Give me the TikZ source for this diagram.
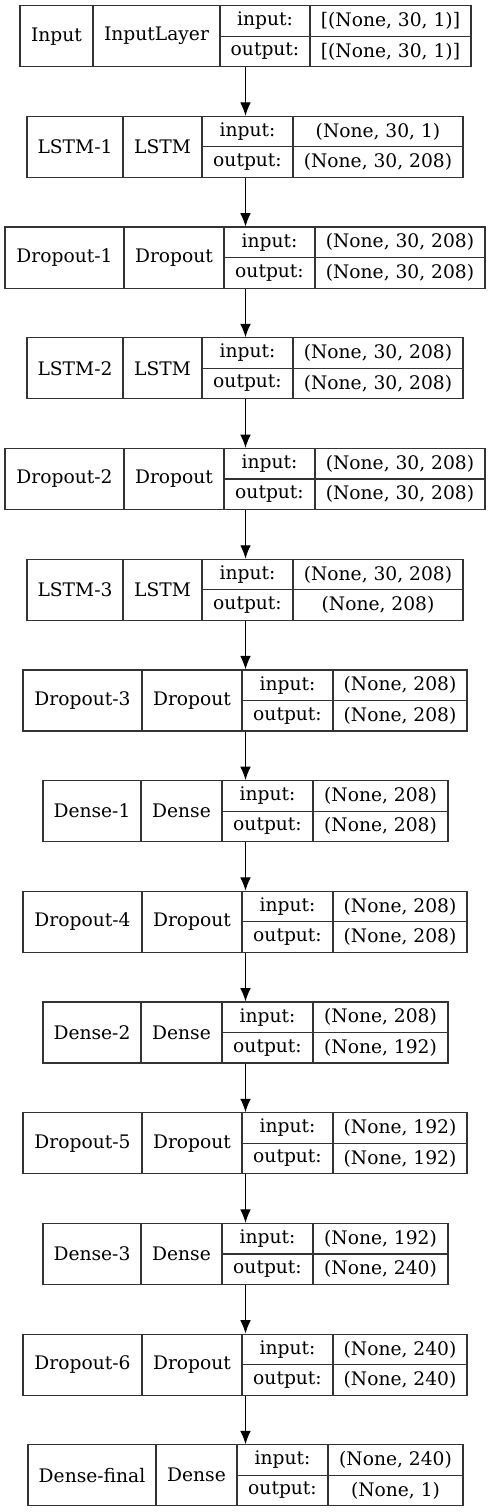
\documentclass[tikz,border=0pt]{standalone}
\usepackage{fontspec}
\setmainfont{DejaVu Serif}
\usetikzlibrary{arrows.meta}

\begin{document}
\begin{tikzpicture}[x=0.75pt, y=-0.75pt]
    \def\h{61}
    \def\gap{110.7}
    \tikzstyle{cell} = [draw=black!80, line width=0.9pt, inner sep=0pt, font=\fontsize{14}{16}\selectfont]
    \tikzstyle{flow} = [-{Latex[length=10pt, width=8pt]}, line width=0.75pt]
    \useasboundingbox (0,0) rectangle (491,1512);
    \foreach \i/\nm/\kd/\xa/\xb/\xc/\xd/\xe/\inp/\outp in {
        0/Input/InputLayer/20/93/220/310/471/{[(None, 30, 1)]}/{[(None, 30, 1)]},
        1/LSTM-1/LSTM/27/123/202/293/463/{(None, 30, 1)}/{(None, 30, 208)},
        2/Dropout-1/Dropout/5/124/224/315/485/{(None, 30, 208)}/{(None, 30, 208)},
        3/LSTM-2/LSTM/27/123/202/293/463/{(None, 30, 208)}/{(None, 30, 208)},
        4/Dropout-2/Dropout/5/124/224/315/485/{(None, 30, 208)}/{(None, 30, 208)},
        5/LSTM-3/LSTM/27/123/202/293/463/{(None, 30, 208)}/{(None, 208)},
        6/Dropout-3/Dropout/23/142/242/333/467/{(None, 208)}/{(None, 208)},
        7/Dense-1/Dense/43/141/222/313/448/{(None, 208)}/{(None, 208)},
        8/Dropout-4/Dropout/23/142/242/333/467/{(None, 208)}/{(None, 208)},
        9/Dense-2/Dense/43/141/222/313/448/{(None, 208)}/{(None, 192)},
        10/Dropout-5/Dropout/23/142/242/333/467/{(None, 192)}/{(None, 192)},
        11/Dense-3/Dense/43/141/222/313/448/{(None, 192)}/{(None, 240)},
        12/Dropout-6/Dropout/23/142/242/333/467/{(None, 240)}/{(None, 240)},
        13/Dense-final/Dense/28/156/237/328/463/{(None, 240)}/{(None, 1)}} {
        \pgfmathsetmacro\ytop{5.7+\i*\gap}
        \pgfmathsetmacro\wall{(\xe-\xa)*0.75}
        \pgfmathsetmacro\wname{(\xb-\xa)*0.75}
        \pgfmathsetmacro\wkind{(\xc-\xb)*0.75}
        \pgfmathsetmacro\wlab{(\xd-\xc)*0.75}
        \pgfmathsetmacro\wval{(\xe-\xd)*0.75}
        \node[cell, minimum width=\wall pt, minimum height=\h*0.75pt] (L\i) at ({(\xa+\xe)/2}, \ytop+\h/2) {};
        \node[cell, minimum width=\wname pt, minimum height=\h*0.75pt] (L\i-name) at ({(\xa+\xb)/2}, \ytop+\h/2) {\nm};
        \node[cell, minimum width=\wkind pt, minimum height=\h*0.75pt] (L\i-kind) at ({(\xb+\xc)/2}, \ytop+\h/2) {\kd};
        \node[cell, minimum width=\wlab pt, minimum height=\h*0.375pt] (L\i-in) at ({(\xc+\xd)/2}, \ytop+\h/4) {input:};
        \node[cell, minimum width=\wlab pt, minimum height=\h*0.375pt] (L\i-out) at ({(\xc+\xd)/2}, \ytop+3*\h/4) {output:};
        \node[cell, minimum width=\wval pt, minimum height=\h*0.375pt] (L\i-inv) at ({(\xd+\xe)/2}, \ytop+\h/4) {\inp};
        \node[cell, minimum width=\wval pt, minimum height=\h*0.375pt] (L\i-outv) at ({(\xd+\xe)/2}, \ytop+3*\h/4) {\outp};
    }
    \foreach \i in {0,...,12} {
        \pgfmathtruncatemacro\j{\i+1}
        \draw[flow] (L0.south |- L\i.south) -- (L0.south |- L\j.north);
    }
\end{tikzpicture}
\end{document}
